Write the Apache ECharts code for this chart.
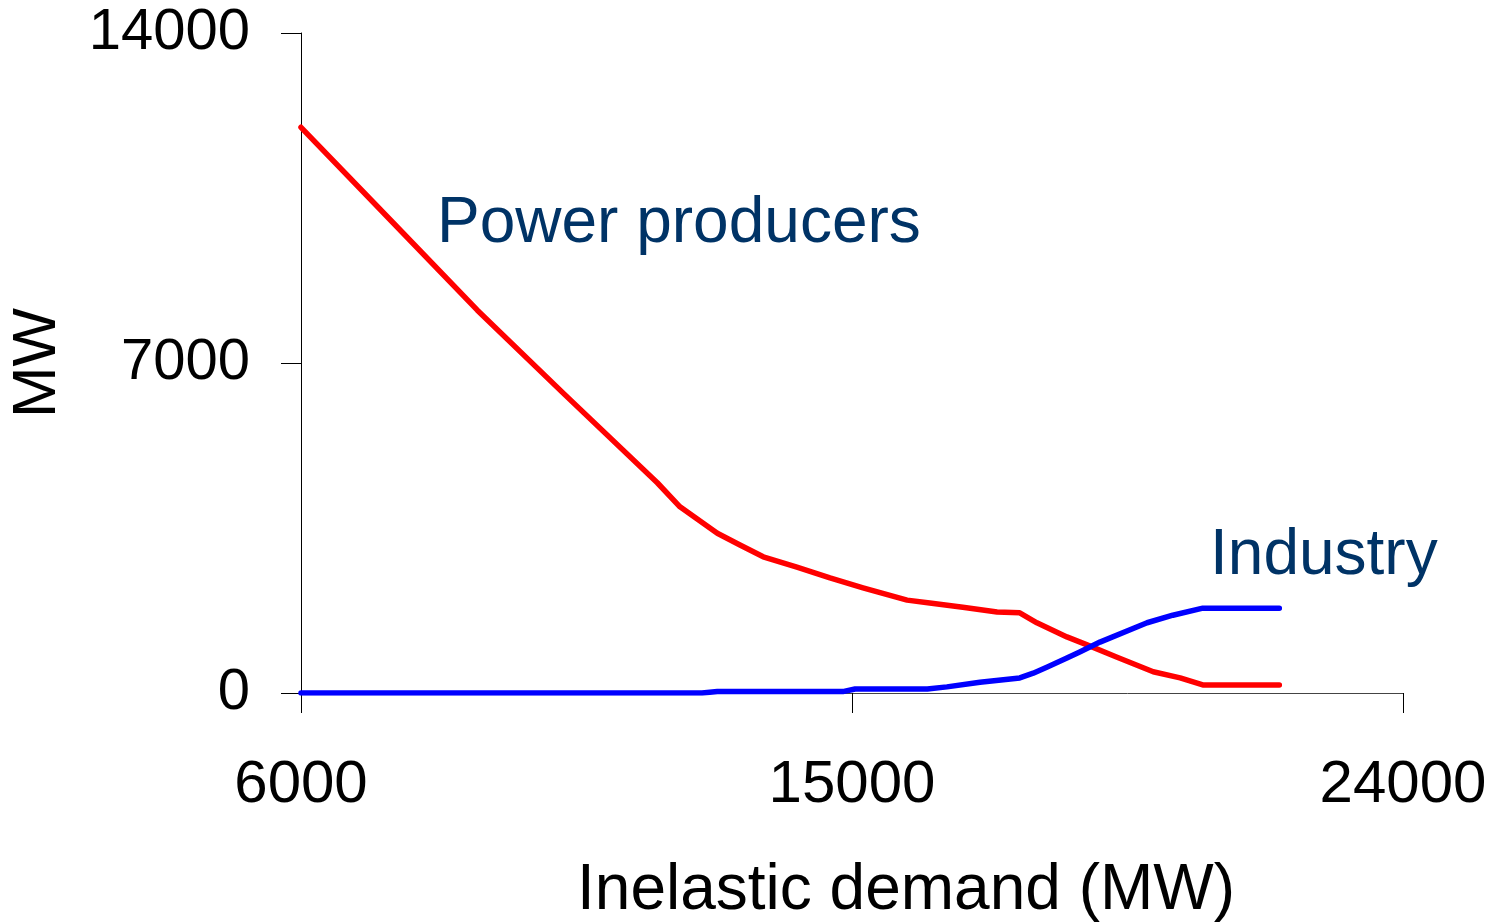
<!DOCTYPE html>
<html>
<head>
<meta charset="utf-8">
<script src="https://cdn.jsdelivr.net/npm/echarts@6/dist/echarts.min.js"></script>
<style>
  html, body { margin: 0; padding: 0; background: #fff; }
  #chart { width: 1495px; height: 923px; }
</style>
</head>
<body>
<div id="chart"></div>
<script>
// values
const producersX = [6000, 7500, 8880, 10300, 11820, 12190, 12800, 13170, 13550, 14100, 14640, 15180, 15900, 16270, 16810, 17370, 17740, 18020, 18510, 18840, 19330, 19920, 20360, 20730, 21980];
const producersY = [12000, 9980, 8120, 6340, 4460, 3950, 3390, 3140, 2890, 2670, 2440, 2230, 1970, 1910, 1820, 1720, 1700, 1490, 1190, 1020, 760, 450, 320, 170, 170];
const industryX = [6000, 12550, 12800, 14850, 15050, 16230, 16550, 17090, 17740, 17960, 18190, 18510, 18720, 19050, 19820, 20240, 20730, 21980];
const industryY = [0, 0, 30, 30, 85, 85, 130, 230, 320, 420, 550, 740, 870, 1080, 1490, 1650, 1800, 1800];
const xTicks = [6000, 15000, 24000];

const FONT = "'Liberation Sans', Arial, sans-serif";
const chart = echarts.init(document.getElementById("chart"));

const pairs = (xs, ys) => xs.map((x, i) => [x, ys[i]]);
const plain = v => String(v);

chart.setOption({
  backgroundColor: "#fff",
  animation: false,
  grid: { left: 301, right: 92, top: 33, bottom: 230, outerBoundsMode: "none", containLabel: false },
  xAxis: {
    type: "value",
    min: 6000,
    max: 24000,
    axisLine: { lineStyle: { color: "#444", width: 1 } },
    axisTick: { length: 20, customValues: xTicks, lineStyle: { color: "#000" } },
    axisLabel: {
      customValues: xTicks,
      formatter: plain,
      margin: 62,
      fontSize: 60,
      color: "#000",
      fontFamily: FONT
    },
    splitLine: { show: false }
  },
  yAxis: {
    type: "value",
    min: 0,
    max: 14000,
    interval: 7000,
    name: "MW",
    nameLocation: "middle",
    nameRotate: 90,
    nameGap: 232,
    nameTextStyle: { fontSize: 62, color: "#000", fontFamily: FONT },
    axisLine: { show: true, lineStyle: { color: "#000", width: 1 } },
    axisTick: { show: true, length: 20, lineStyle: { color: "#000" } },
    axisLabel: { formatter: plain, margin: 51, fontSize: 58, color: "#000", fontFamily: FONT },
    splitLine: { show: false }
  },
  graphic: [
    {
      type: "text",
      left: 437,
      top: 192,
      style: { text: "Power producers", fontSize: 64, fill: "#003366", fontFamily: FONT }
    },
    {
      type: "text",
      left: 1210,
      top: 524,
      style: { text: "Industry", fontSize: 64, fill: "#003366", fontFamily: FONT }
    },
    {
      type: "text",
      left: 577,
      top: 859,
      style: { text: "Inelastic demand (MW)", fontSize: 64, fill: "#000", fontFamily: FONT }
    }
  ],
  series: [
    {
      name: "Power producers",
      type: "line",
      showSymbol: false,
      lineStyle: { color: "#ff0000", width: 5.5, cap: "round", join: "round" },
      data: pairs(producersX, producersY)
    },
    {
      name: "Industry",
      type: "line",
      showSymbol: false,
      lineStyle: { color: "#0000ff", width: 5.5, cap: "round", join: "round" },
      data: pairs(industryX, industryY)
    }
  ]
});
</script>
</body>
</html>
